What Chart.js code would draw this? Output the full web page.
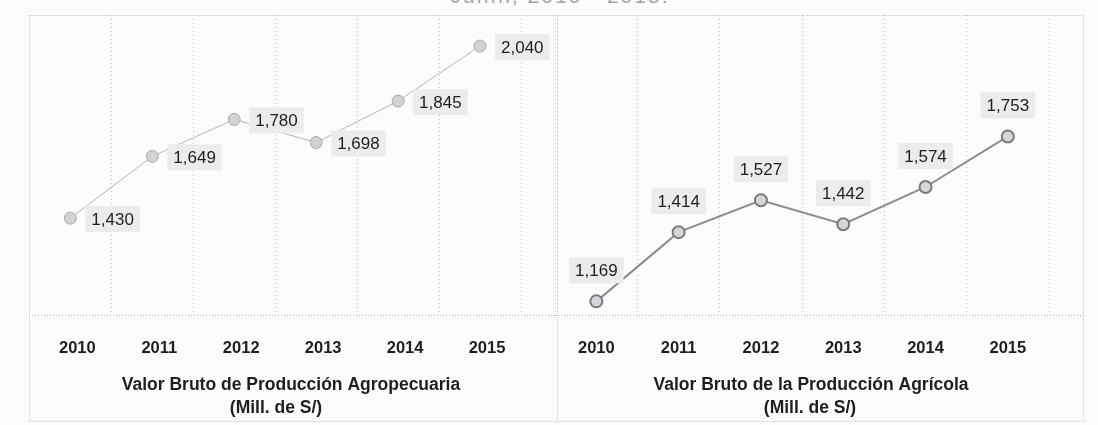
<!DOCTYPE html>
<html>
<head>
<meta charset="utf-8">
<script src="https://cdn.jsdelivr.net/npm/chart.js@4.4.0/dist/chart.umd.min.js"></script>
<style>
  body { margin: 0; background: #fcfcfd; }
  #wrap { position: relative; width: 1098px; height: 425px; overflow: hidden; background: #fcfcfd;
          font-family: "Liberation Sans", Arial, sans-serif; }
  #title { position: absolute; left: 0; width: 1120px; top: -16px; text-align: center;
           font-size: 21px; color: #a5a5a5; letter-spacing: 2px; }
  #frame { position: absolute; left: 29px; top: 15px; width: 1055px; height: 407px;
           border: 1px dotted #c8c8c8; box-sizing: border-box; }
  #divider { position: absolute; left: 557px; top: 15px; width: 0; height: 407px;
             border-left: 1px dotted #c8c8c8; }
  canvas { position: absolute; }
</style>
</head>
<body>
<div id="wrap">
  <div id="title">Junín, 2010 - 2015.</div>
  <div id="frame"></div>
  <div id="divider"></div>
  <canvas id="left" width="528" height="407" style="left:29px;top:15px;width:528px;height:407px"></canvas>
  <canvas id="right" width="529" height="407" style="left:555px;top:15px;width:529px;height:407px"></canvas>
</div>
<script>
// data
const years = ["2010", "2011", "2012", "2013", "2014", "2015"];
const agropecuaria = [1430, 1649, 1780, 1698, 1845, 2040];
const agricola = [1169, 1414, 1527, 1442, 1574, 1753];
const titleAgropecuaria = ["Valor Bruto de Producción Agropecuaria", "(Mill. de S/)"];
const titleAgricola = ["Valor Bruto de la Producción Agrícola", "(Mill. de S/)"];

const FONT = "'Liberation Sans', Arial, sans-serif";

function fmt(v) {
  return v.toLocaleString("en-US");
}

// value labels with a light box, either to the right of the point or above it
const valueLabels = {
  id: "valueLabels",
  afterDatasetsDraw(chart, args, opts) {
    const ctx = chart.ctx;
    const meta = chart.getDatasetMeta(0);
    const values = chart.data.datasets[0].data;
    ctx.save();
    ctx.font = "17px " + FONT;
    ctx.textBaseline = "middle";
    ctx.textAlign = "center";
    meta.data.forEach(function (pt, i) {
      const txt = fmt(values[i]);
      const w = ctx.measureText(txt).width;
      let cx, cy;
      if (opts.pos === "right") {
        cx = pt.x + 21 + w / 2;
        cy = pt.y + 1;
      } else {
        cx = pt.x;
        cy = pt.y - 31;
      }
      ctx.fillStyle = "#ececec";
      ctx.fillRect(cx - w / 2 - 6, cy - 13, w + 12, 26);
      ctx.fillStyle = "#1e1e1e";
      ctx.fillText(txt, cx, cy + 1);
    });
    ctx.restore();
  }
};

// dotted base line across the whole panel + two line axis title under the years
const panelExtras = {
  id: "panelExtras",
  afterDraw(chart, args, opts) {
    const ctx = chart.ctx;
    const y = Math.round(chart.chartArea.bottom) + 0.5;
    ctx.save();
    ctx.strokeStyle = "#b8b8b8";
    ctx.setLineDash([1, 2]);
    ctx.lineWidth = 1;
    ctx.beginPath();
    ctx.moveTo(0, y);
    ctx.lineTo(chart.width, y);
    ctx.stroke();

    ctx.font = "bold 17.5px " + FONT;
    ctx.fillStyle = "#1e1e1e";
    ctx.textAlign = "center";
    ctx.textBaseline = "middle";
    opts.lines.forEach(function (line, i) {
      ctx.fillText(line, opts.centers[i], chart.chartArea.bottom + 70 + i * 23);
    });
    ctx.restore();
  }
};

function makeChart(id, values, title, yMin, yMax, opt) {
  return new Chart(document.getElementById(id), {
    type: "line",
    data: {
      labels: years,
      datasets: [{
        data: values,
        borderColor: opt.line,
        borderWidth: opt.lineWidth,
        pointRadius: 6,
        pointBackgroundColor: opt.fill,
        pointBorderColor: opt.pointBorder,
        pointBorderWidth: opt.pointBorderWidth,
        tension: 0
      }]
    },
    options: {
      responsive: false,
      animation: false,
      events: [],
      layout: { autoPadding: false, padding: { left: 0, right: opt.padRight, top: 0, bottom: 41 } },
      plugins: {
        legend: { display: false },
        tooltip: { enabled: false },
        valueLabels: { pos: opt.labelPos },
        panelExtras: { lines: title, centers: opt.titleCenters }
      },
      scales: {
        x: {
          offset: true,
          border: { display: false, dash: [1, 3] },
          grid: { offset: true, drawTicks: false, color: "#c4c4c4", lineWidth: 1 },
          ticks: {
            padding: 23,
            labelOffset: opt.labelOffset,
            color: "#1e1e1e",
            font: { family: FONT, size: 16.5, weight: "bold", lineHeight: 1.2 }
          }
        },
        y: {
          display: false,
          min: yMin,
          max: yMax
        }
      }
    },
    plugins: [valueLabels, panelExtras]
  });
}

const leftChart = makeChart("left", agropecuaria, titleAgropecuaria, 1086, 2150, {
  line: "#b5b5b5", lineWidth: 1, fill: "#d2d2d2", pointBorder: "#a8a8a8", pointBorderWidth: 1,
  padRight: 36, labelPos: "right", labelOffset: 7, titleCenters: [262, 247]
});
const rightChart = makeChart("right", agricola, titleAgricola, 1120, 2183, {
  line: "#8c8c8c", lineWidth: 2, fill: "#d3d7dc", pointBorder: "#7a7a7a", pointBorderWidth: 2,
  padRight: 35, labelPos: "above", labelOffset: 0, titleCenters: [256, 255]
});
</script>
</body>
</html>
